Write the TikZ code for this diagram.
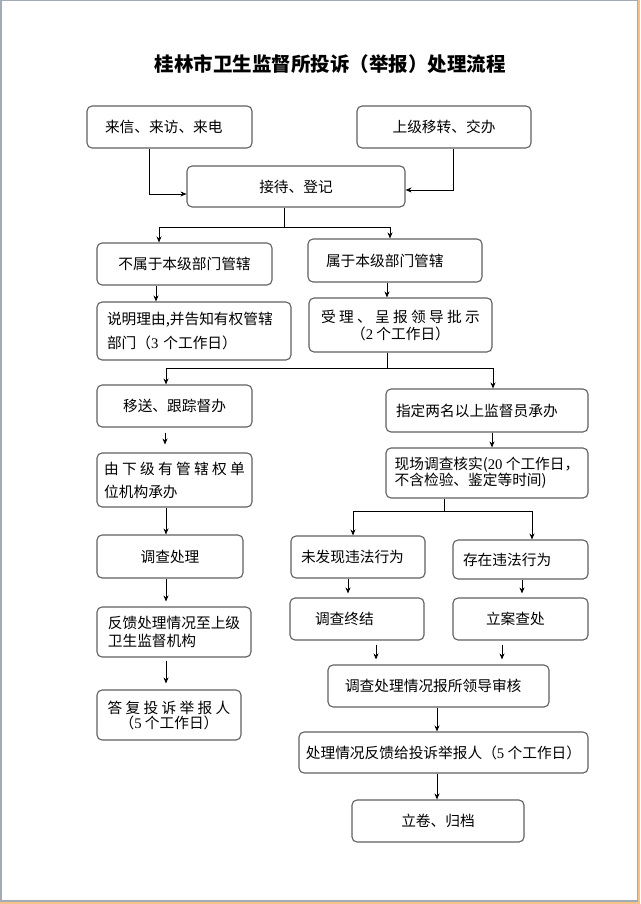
\documentclass[tikz,border=0pt]{standalone}
\usepackage{fontspec}
\setmainfont{Noto Sans CJK SC}
\newfontfamily\numfont{Liberation Serif}
\usepackage{tikz}
\usetikzlibrary{arrows.meta}

\definecolor{framegray}{HTML}{A3ABB6}
\definecolor{frameorange}{HTML}{F5C38A}
\definecolor{boxgray}{HTML}{606060}

\begin{document}
\begin{tikzpicture}[x=1pt,y=-1pt,->,>={Stealth[length=6pt,width=5pt]},line width=0.8pt,
  main box/.style={rectangle,rounded corners=5pt,draw=boxgray,line width=1.1pt,fill=white,inner sep=2pt,font=\fontsize{14.7}{15}\selectfont}]

\useasboundingbox (0,0) rectangle (640,904);
\draw[-,framegray,line width=1.5pt] (0.75,0.75) rectangle (637.5,901);
\draw[-,frameorange,line width=2pt] (639,0) -- (639,904);
\draw[-,frameorange,line width=2pt] (0,902.5) -- (640,902.5);

	\node[font=\fontsize{19.5}{20}\selectfont\bfseries] (title) at (330,64) {桂林市卫生监督所投诉（举报）处理流程};

	\node[main box,minimum width=165pt,minimum height=42pt,text width=129pt] (letter) at (169.5,127) {来信、来访、来电};
	\node[main box,minimum width=174pt,minimum height=42pt] (upper) at (444,127) {上级移转、交办};
	\node[main box,minimum width=218pt,minimum height=41pt] (reception) at (296,186.5) {接待、登记};

	\node[main box,minimum width=175pt,minimum height=42pt] (notours) at (184.5,264) {不属于本级部门管辖};
	\node[main box,minimum width=174pt,minimum height=43pt,text width=138pt] (ours) at (395,260.5) {属于本级部门管辖};
	\node[main box,minimum width=194pt,minimum height=58pt,text width=174pt,align=left] (explain) at (194,331) {说明理由,并告知有权管辖\\[7pt]部门（{\numfont 3} 个工作日）};
	\node[main box,minimum width=183pt,minimum height=54pt,align=center] (accept) at (400.5,325) {受 理 、 呈 报 领 导 批 示\\[2pt]（{\numfont 2} 个工作日）};

	\node[main box,minimum width=155pt,minimum height=42pt] (transfer) at (174.5,406) {移送、跟踪督办};
	\node[main box,minimum width=155pt,minimum height=54pt,align=left] (lower) at (174.5,480) {由 下 级 有 管 辖 权 单\\[8pt]位机构承办};
	\node[main box,minimum width=146pt,minimum height=43pt] (handle) at (170,556.5) {调查处理};
	\node[main box,minimum width=154pt,minimum height=50pt,align=left] (feedback) at (174,632) {反馈处理情况至上级\\[3pt]卫生监督机构};
	\node[main box,minimum width=144pt,minimum height=50pt,align=center] (reply) at (169,715) {答 复 投 诉 举 报 人\\（{\numfont 5} 个工作日）};

	\node[main box,minimum width=202pt,minimum height=43pt,text width=182pt] (assign) at (487,410.5) {指定两名以上监督员承办};
	\node[main box,minimum width=202pt,minimum height=50pt,align=left] (onsite) at (487,473) {现场调查核实({\numfont 20} 个工作日，\\不含检验、鉴定等时间)};
	\node[main box,minimum width=134pt,minimum height=42pt,text width=114pt] (noviol) at (358,557) {未发现违法行为};
	\node[main box,minimum width=135pt,minimum height=39pt,text width=115pt] (viol) at (520.5,559.5) {存在违法行为};
	\node[main box,minimum width=134pt,minimum height=42pt,text width=84pt] (closed) at (357,619) {调查终结};
	\node[main box,minimum width=135pt,minimum height=42pt,text width=69pt] (filecase) at (520.5,619) {立案查处};
	\node[main box,minimum width=221pt,minimum height=42pt,text width=187pt] (review) at (438.5,686) {调查处理情况报所领导审核};
	\node[main box,minimum width=289pt,minimum height=41pt] (inform) at (443.5,752.5) {处理情况反馈给投诉举报人（{\numfont 5} 个工作日）};
	\node[main box,minimum width=172pt,minimum height=42pt] (archive) at (438,821) {立卷、归档};

	\coordinate (fork1) at (284,227);
	\coordinate (fork2) at (387,368);
	\coordinate (fork3) at (444,511);

	% intake
	\draw ([xshift=-20.5pt]letter.south) |- ([yshift=-7.5pt]reception.west);
	\draw ([xshift=9pt]upper.south) |- ([yshift=-3.5pt]reception.east);
	\draw[-] ([xshift=-12pt]reception.south) -- (fork1);
	\draw (fork1) -| ([xshift=-25.5pt]notours.north);
	\draw (fork1) -| ([xshift=-5pt]ours.north);

	\draw ([xshift=-28.5pt]notours.south) -- ([xshift=-28.5pt]notours.south |- explain.north);
	\draw ([xshift=-8pt]ours.south) -- ([xshift=-8pt]ours.south |- accept.north);

	\draw[-] ([xshift=-13.5pt]accept.south) -- (fork2);
	\draw (fork2) -| ([xshift=-8.5pt]transfer.north);
	\draw (fork2) -| ([xshift=6pt]assign.north);

	% left column
	\draw[shorten <=5pt,shorten >=8pt] ([xshift=-9.5pt]transfer.south) -- ([xshift=-9.5pt]transfer.south |- lower.north);
	\draw ([xshift=-8.5pt]lower.south) -- ([xshift=-8.5pt]lower.south |- handle.north);
	\draw[shorten >=5pt] ([xshift=-4pt]handle.south) -- ([xshift=-4pt]handle.south |- feedback.north);
	\draw[shorten <=3pt,shorten >=6pt] ([xshift=-8pt]feedback.south) -- ([xshift=-8pt]feedback.south |- reply.north);

	% right column
	\draw ([xshift=5pt]assign.south) -- ([xshift=5pt]assign.south |- onsite.north);
	\draw[-] ([xshift=-43pt]onsite.south) -- (fork3);
	\draw (fork3) -| ([xshift=-5pt]noviol.north);
	\draw (fork3) -| ([xshift=11.5pt]viol.north);
	\draw[shorten >=4pt] ([xshift=-10pt]noviol.south) -- ([xshift=-10pt]noviol.south |- closed.north);
	\draw[shorten >=4pt] ([xshift=1.5pt]viol.south) -- ([xshift=1.5pt]viol.south |- filecase.north);
	\draw[shorten <=4pt,shorten >=5pt] ([xshift=19pt]closed.south) -- ([xshift=19pt]closed.south |- review.north);
	\draw[shorten <=4pt,shorten >=5pt] ([xshift=-18.5pt]filecase.south) -- ([xshift=-18.5pt]filecase.south |- review.north);
	\draw ([xshift=-1.5pt]review.south) -- ([xshift=-1.5pt]review.south |- inform.north);
	\draw ([xshift=-6.5pt]inform.south) -- ([xshift=-6.5pt]inform.south |- archive.north);

\end{tikzpicture}
\end{document}
